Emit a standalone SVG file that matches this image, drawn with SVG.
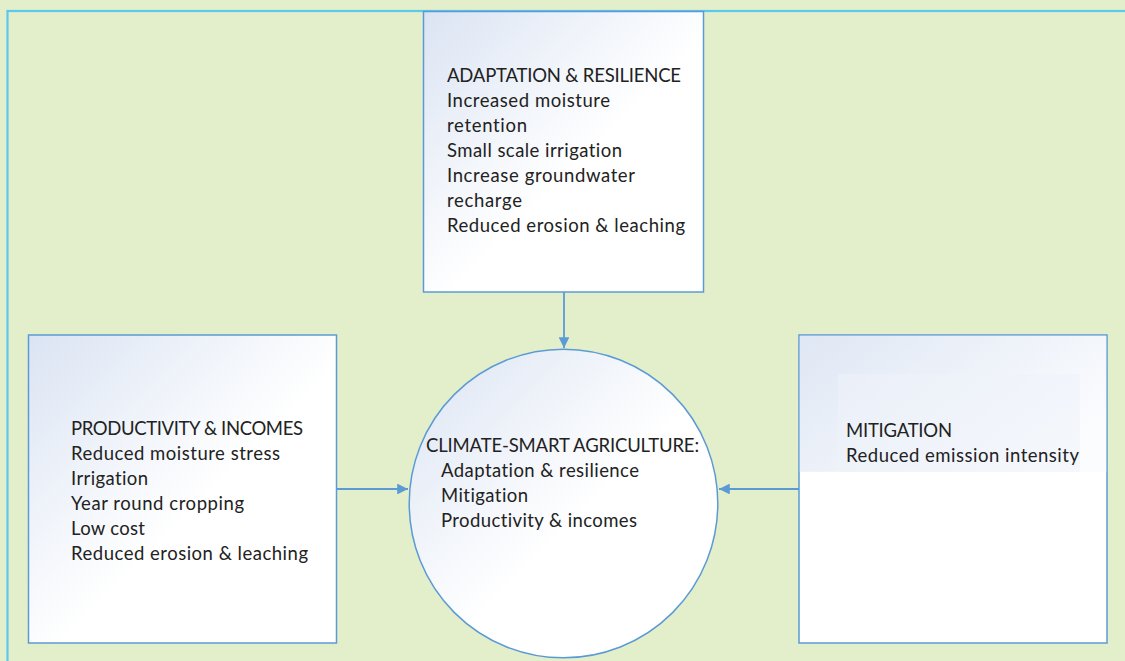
<svg xmlns="http://www.w3.org/2000/svg" width="1125" height="661" viewBox="0 0 1125 661">
<style>
.box{stroke:#5b9bd5;stroke-width:1.5;}
.t{font-family:Lato,"Open Sans","Liberation Sans",sans-serif;font-size:18.5px;fill:#222;font-variant-ligatures:none;font-feature-settings:"liga" 0;}
.conn{stroke:#5b9bd5;stroke-width:1.8;fill:none;}
</style>
<defs>
<linearGradient id="g" x1="0" y1="0" x2="1" y2="1">
<stop offset="0" stop-color="#dbe4f3"/>
<stop offset="0.55" stop-color="#ffffff"/>
<stop offset="1" stop-color="#ffffff"/>
</linearGradient>
<linearGradient id="g2" x1="0" y1="0" x2="1" y2="0.6">
<stop offset="0" stop-color="#dfe7f4"/>
<stop offset="1" stop-color="#fbfcfe"/>
</linearGradient>
<marker id="ah" viewBox="0 0 10 10" refX="10" refY="5" markerWidth="6.5" markerHeight="6" orient="auto" markerUnits="strokeWidth">
<path d="M0,0 L10,5 L0,10 z" fill="#5b9bd5"/>
</marker>
</defs>
<rect x="0" y="0" width="1125" height="661" fill="#e3eecb"/>
<rect x="7.5" y="11" width="1130" height="670" fill="none" stroke="#5bc8ee" stroke-width="2.2"/>
<g id="connectors">
<line class="conn" x1="564" y1="292" x2="564" y2="348" marker-end="url(#ah)"/>
<line class="conn" x1="337" y1="489" x2="408" y2="489" marker-end="url(#ah)"/>
<line class="conn" x1="799" y1="489" x2="719" y2="489" marker-end="url(#ah)"/>
</g>
<g id="adaptation">
<rect class="box" x="423.5" y="11.5" width="280" height="280.5" fill="url(#g)"/>
<text class="t" x="447" y="82" textLength="234">ADAPTATION &amp; RESILIENCE</text>
<text class="t" x="447" y="107" textLength="163">Increased moisture</text>
<text class="t" x="447" y="132" textLength="80">retention</text>
<text class="t" x="447" y="157" textLength="175">Small scale irrigation</text>
<text class="t" x="447" y="182" textLength="188">Increase groundwater</text>
<text class="t" x="447" y="207" textLength="75">recharge</text>
<text class="t" x="447" y="232" textLength="238">Reduced erosion &amp; leaching</text>
</g>
<g id="productivity">
<rect class="box" x="28.5" y="335" width="308" height="308" fill="url(#g)"/>
<text class="t" x="71" y="435" textLength="232">PRODUCTIVITY &amp; INCOMES</text>
<text class="t" x="71" y="460" textLength="209">Reduced moisture stress</text>
<text class="t" x="71" y="485" textLength="77">Irrigation</text>
<text class="t" x="71" y="510" textLength="173">Year round cropping</text>
<text class="t" x="71" y="535" textLength="74">Low cost</text>
<text class="t" x="71" y="560" textLength="237">Reduced erosion &amp; leaching</text>
</g>
<g id="mitigation">
<rect class="box" x="799" y="335" width="308" height="308" fill="#ffffff"/>
<rect x="799.8" y="335.8" width="306.4" height="136" fill="url(#g2)"/>
<rect x="838" y="374" width="242" height="98" fill="#eef2f9" opacity="0.55"/>
<text class="t" x="846" y="437" textLength="106">MITIGATION</text>
<text class="t" x="846" y="462" textLength="233">Reduced emission intensity</text>
</g>
<g id="csa">
<circle class="box" cx="563.5" cy="503.5" r="154.3" fill="url(#g)"/>
<text class="t" x="426" y="452" textLength="273">CLIMATE-SMART AGRICULTURE:</text>
<text class="t" x="441" y="477" textLength="198">Adaptation &amp; resilience</text>
<text class="t" x="441" y="502" textLength="87">Mitigation</text>
<text class="t" x="441" y="527" textLength="196">Productivity &amp; incomes</text>
</g>
</svg>
